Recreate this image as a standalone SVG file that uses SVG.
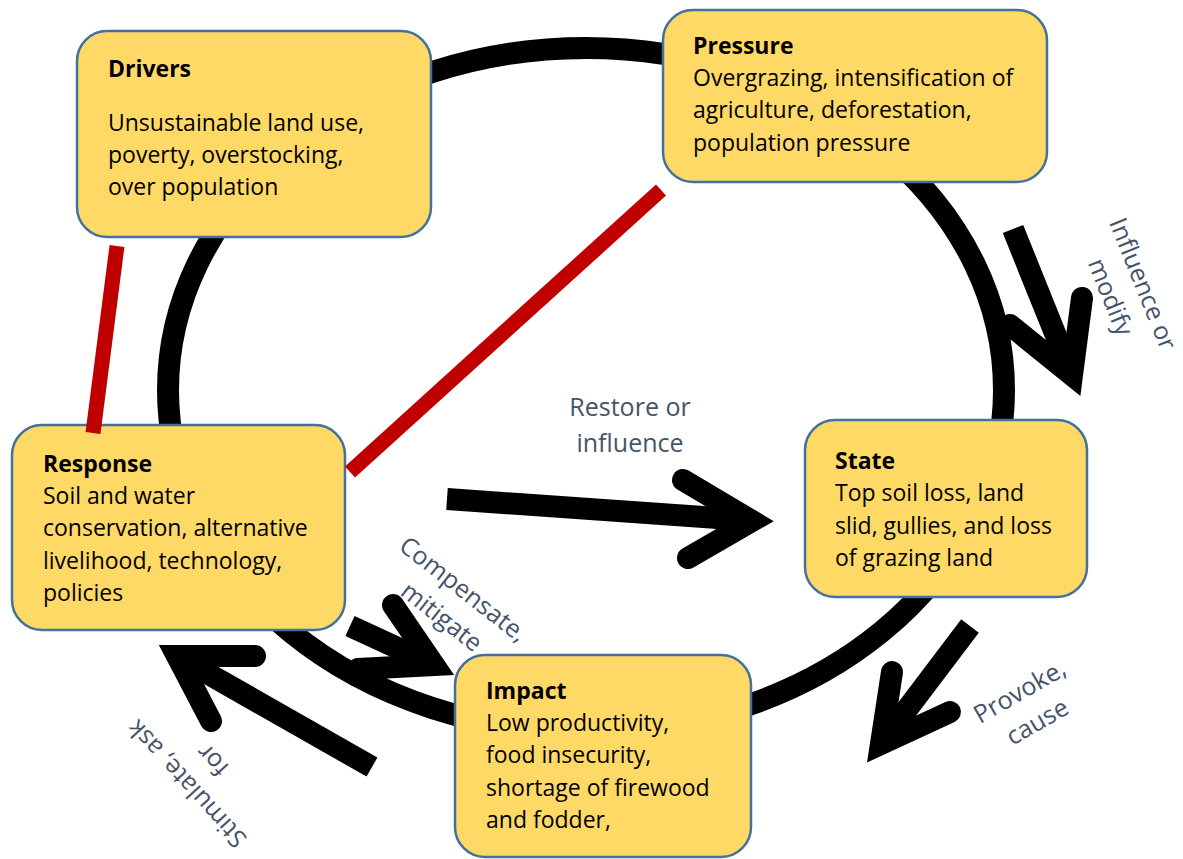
<svg xmlns="http://www.w3.org/2000/svg" width="1183" height="859" viewBox="0 0 1183 859">
<style>
.box{fill:#FFD966;stroke:#41719C;stroke-width:2.5}
.t{font-family:"Open Sans","Liberation Sans",sans-serif;font-size:23px;fill:#000}
.b{font-weight:bold}
.lab{font-family:"Open Sans","Liberation Sans",sans-serif;font-size:25px;fill:#44546A;text-anchor:middle}
.shaft{fill:none;stroke:#000;stroke-width:22;stroke-linecap:butt}
.head{fill:none;stroke:#000;stroke-width:22;stroke-linecap:round;stroke-linejoin:miter;stroke-miterlimit:10}
.red{stroke:#C00000;stroke-width:15;stroke-linecap:butt}
</style>
<rect width="1183" height="859" fill="#fff"/>
<g id="cycle">
<ellipse cx="586" cy="390" rx="418" ry="342" fill="none" stroke="#000" stroke-width="22"/>
</g>
<g id="drivers">
<rect class="box" x="77" y="31" width="354" height="206" rx="30"/>
<text class="t b" x="108" y="77">Drivers</text>
<text class="t" x="108" y="131">Unsustainable land use,</text>
<text class="t" x="108" y="163">poverty, overstocking,</text>
<text class="t" x="108" y="195">over population</text>
</g>
<g id="pressure">
<rect class="box" x="663" y="10" width="384" height="172" rx="30"/>
<text class="t b" x="693" y="54">Pressure</text>
<text class="t" x="693" y="86">Overgrazing, intensification of</text>
<text class="t" x="693" y="118">agriculture, deforestation,</text>
<text class="t" x="693" y="151">population pressure</text>
</g>
<g id="response">
<rect class="box" x="12" y="425" width="333" height="205" rx="30"/>
<text class="t b" x="43" y="472">Response</text>
<text class="t" x="43" y="504">Soil and water</text>
<text class="t" x="43" y="536">conservation, alternative</text>
<text class="t" x="43" y="569">livelihood, technology,</text>
<text class="t" x="43" y="601">policies</text>
</g>
<g id="state">
<rect class="box" x="805" y="420" width="282" height="177" rx="30"/>
<text class="t b" x="835" y="469">State</text>
<text class="t" x="835" y="501">Top soil loss, land</text>
<text class="t" x="835" y="534">slid, gullies, and loss</text>
<text class="t" x="835" y="566">of grazing land</text>
</g>
<g id="impact">
<rect class="box" x="455" y="655" width="296" height="202" rx="30"/>
<text class="t b" x="486" y="699">Impact</text>
<text class="t" x="486" y="731">Low productivity,</text>
<text class="t" x="486" y="763">food insecurity,</text>
<text class="t" x="486" y="796">shortage of firewood</text>
<text class="t" x="486" y="828">and fodder,</text>
</g>
<g id="connectors">
<line class="red" x1="117" y1="246" x2="93" y2="433"/>
<line class="red" x1="661" y1="190" x2="350" y2="472"/>
<line class="shaft" x1="447" y1="499" x2="746" y2="520"/>
<polyline class="head" points="683,480 752,521 688,558"/>
<line class="shaft" x1="1013" y1="229" x2="1069" y2="368"/>
<polyline class="head" points="1082,298 1072,375 1010,325"/>
<line class="shaft" x1="970" y1="626" x2="886" y2="737"/>
<polyline class="head" points="892,672 881,744 950,712"/>
<line class="shaft" x1="350" y1="626" x2="428" y2="662"/>
<polyline class="head" points="393,605 434,665 358,669"/>
<line class="shaft" x1="372" y1="767" x2="184" y2="660"/>
<polyline class="head" points="255,656 177,656 211,721"/>
</g>
<g id="labels">
<text class="lab" x="630" y="416">Restore or</text>
<text class="lab" x="630" y="452">influence</text>
<g transform="translate(1135,287) rotate(68)">
<text class="lab" x="0" y="0">Influence or</text>
<text class="lab" x="0" y="35">modify</text>
</g>
<g transform="translate(458,596) rotate(38)">
<text class="lab" x="0" y="0">Compensate,</text>
<text class="lab" x="0" y="35">mitigate</text>
</g>
<g transform="translate(1024,699) rotate(-30)">
<text class="lab" x="0" y="0">Provoke,</text>
<text class="lab" x="0" y="35">cause</text>
</g>
<g transform="translate(193,778) rotate(-132.5)">
<text class="lab" x="0" y="0">Stimulate, ask</text>
<text class="lab" x="0" y="35">for</text>
</g>
</g>
</svg>
